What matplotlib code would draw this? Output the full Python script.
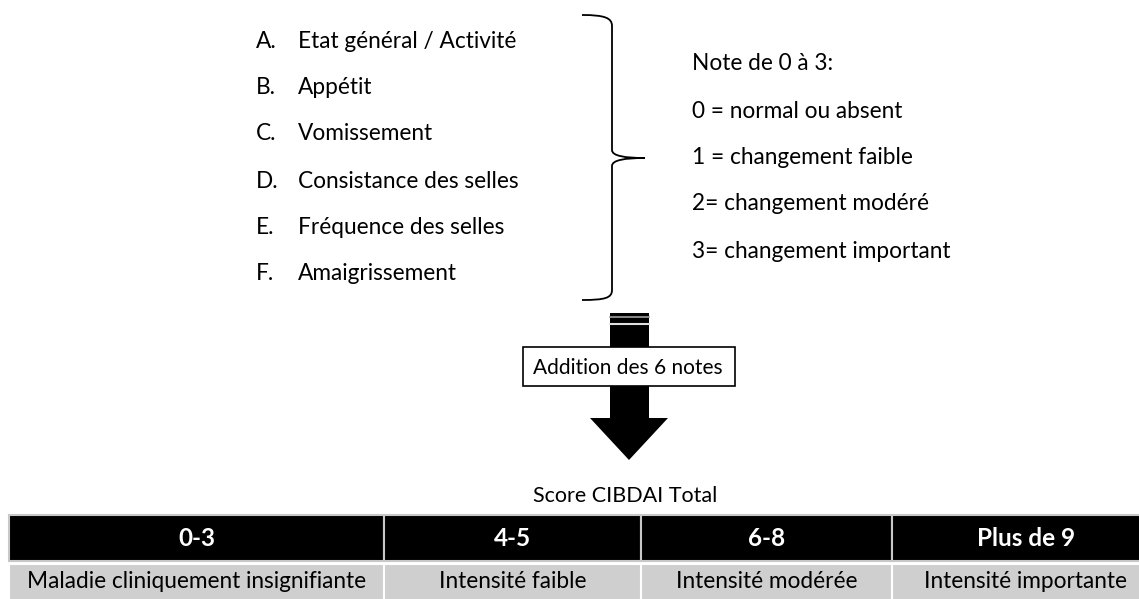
import matplotlib.pyplot as plt
from matplotlib.patches import Rectangle, Polygon, PathPatch
from matplotlib.path import Path

plt.rcParams['font.family'] = ['Lato', 'DejaVu Sans']

# contenu du schéma
lettres = ['A.', 'B.', 'C.', 'D.', 'E.', 'F.']
criteres = ['Etat général / Activité', 'Appétit', 'Vomissement',
            'Consistance des selles', 'Fréquence des selles', 'Amaigrissement']
notes = ['Note de 0 à 3:', '0 = normal ou absent', '1 = changement faible',
         '2= changement modéré', '3= changement important']
etape = 'Addition des 6 notes'
resultat = 'Score CIBDAI Total'
scores = ['0-3', '4-5', '6-8', 'Plus de 9']
intensites = ['Maladie cliniquement insignifiante', 'Intensité faible',
              'Intensité modérée', 'Intensité importante']

# mise en page (pixels)
W, H = 1139, 599
y_crit = [40, 87, 133, 180, 227, 273]
y_notes = [63, 110, 157, 203, 250]
bords = [9, 384, 641, 892, 1160]

fig = plt.figure(figsize=(W / 100, H / 100), dpi=100)
ax = fig.add_axes([0, 0, 1, 1])
ax.set_xlim(0, W)
ax.set_ylim(H, 0)
ax.axis('off')

fs = 16.3
dy = 7.5  # centre -> ligne de base
for y, l, c in zip(y_crit, lettres, criteres):
    ax.text(256, y + dy, l, fontsize=fs, va='baseline', ha='left')
    ax.text(298, y + dy, c, fontsize=fs, va='baseline', ha='left')

for y, n in zip(y_notes, notes):
    ax.text(692, y + dy, n, fontsize=fs, va='baseline', ha='left')

# accolade
verts = [(582, 15), (605, 15), (612, 18), (612, 26),
         (612, 150),
         (612, 156), (625, 158), (645, 158),
         (625, 158), (612, 160), (612, 166),
         (612, 290),
         (612, 298), (605, 300), (582, 300)]
codes = [Path.MOVETO, Path.CURVE4, Path.CURVE4, Path.CURVE4,
         Path.LINETO,
         Path.CURVE4, Path.CURVE4, Path.CURVE4,
         Path.CURVE4, Path.CURVE4, Path.CURVE4,
         Path.LINETO,
         Path.CURVE4, Path.CURVE4, Path.CURVE4]
ax.add_patch(PathPatch(Path(verts, codes), fill=False, lw=1.3, color='black'))

# flèche
ax.add_patch(Rectangle((610, 313), 39, 106, color='black', lw=0))
ax.plot([610, 649], [316.5, 316.5], color='#a0a0a0', lw=1.2)
ax.plot([610, 649], [323.5, 323.5], color='#e0e0e0', lw=1.5)
ax.add_patch(Polygon([(590, 418), (668, 418), (629, 460)], closed=True,
                     color='black', lw=0))
ax.add_patch(Rectangle((523, 347), 212, 39, facecolor='white',
                       edgecolor='black', lw=1.2))
ax.text(628, 366.5 + 7, etape, fontsize=15, va='baseline', ha='center')
ax.text(625, 495 + 7, resultat, fontsize=15.5, va='baseline', ha='center')

# tableau
for i in range(len(scores)):
    x0, x1 = bords[i], bords[i + 1]
    ax.add_patch(Rectangle((x0, 515), x1 - x0, 46, facecolor='black',
                           edgecolor='#c8c8c8', lw=1.5))
    ax.add_patch(Rectangle((x0, 564), x1 - x0, 40, facecolor='#cfcfcf',
                           edgecolor='white', lw=1.5))
    ax.text((x0 + x1) / 2, 538 + 8.5, scores[i], fontsize=17.5, fontweight='bold',
            color='white', va='baseline', ha='center')
    ax.text((x0 + x1) / 2, 581 + dy, intensites[i], fontsize=fs,
            va='baseline', ha='center')

fig.savefig('out.png', dpi=100)
